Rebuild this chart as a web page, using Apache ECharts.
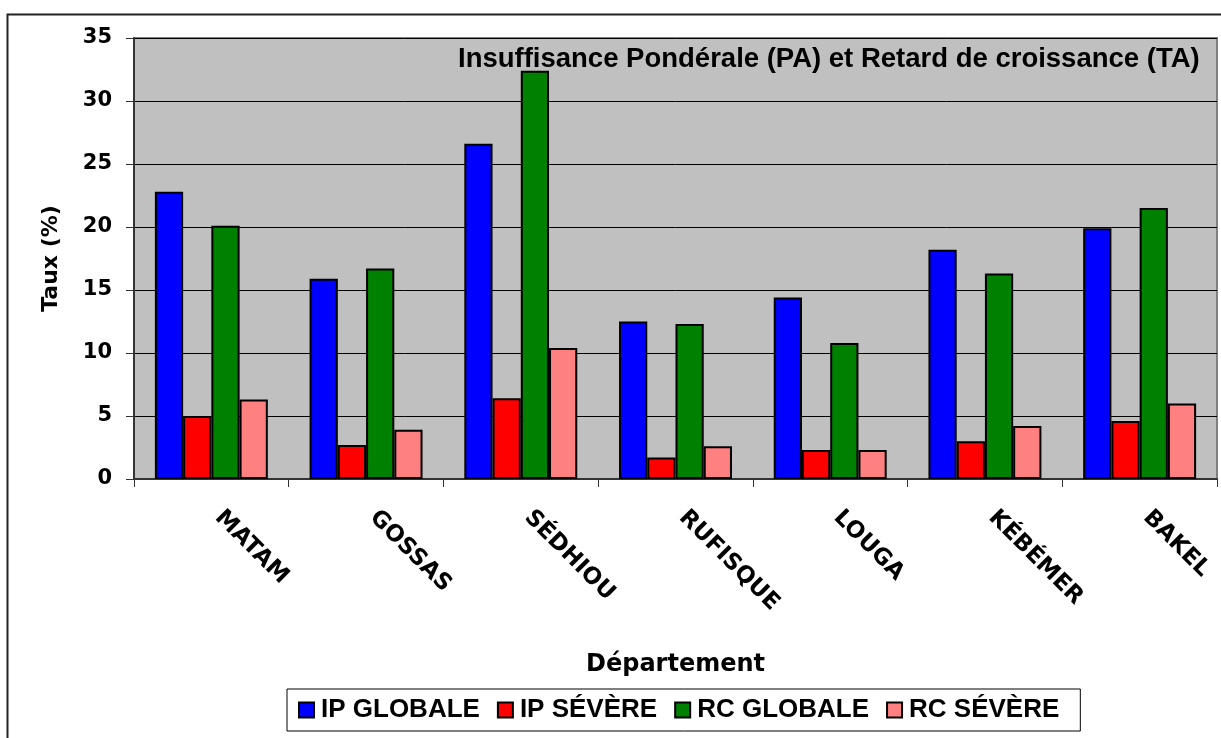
<!DOCTYPE html>
<html>
<head>
<meta charset="utf-8">
<script src="https://cdn.jsdelivr.net/npm/echarts@6/dist/echarts.min.js"></script>
<style>
  html, body { margin: 0; padding: 0; background: #fff; }
  #chart { width: 1221px; height: 738px; }
</style>
</head>
<body>
<div id="chart"></div>
<script>
// departements
const departements = ['MATAM', 'GOSSAS', 'SÉDHIOU', 'RUFISQUE', 'LOUGA', 'KÉBÉMER', 'BAKEL']

// taux (%)
const ipGlobale = [22.8, 15.9, 26.6, 12.5, 14.4, 18.2, 19.9]
const ipSevere = [5.0, 2.7, 6.4, 1.7, 2.3, 3.0, 4.6]
const rcGlobale = [20.1, 16.7, 32.4, 12.3, 10.8, 16.3, 21.5]
const rcSevere = [6.3, 3.9, 10.4, 2.6, 2.3, 4.2, 6.0]

const yTicks = [0, 5, 10, 15, 20, 25, 30, 35]

const arial = '"Liberation Sans", Arial, sans-serif'
const dejavu = '"DejaVu Sans", Verdana, sans-serif'

const chart = echarts.init(document.getElementById('chart'))

function bar(name, data, color) {
  return {
    name: name,
    type: 'bar',
    data: data,
    barGap: '0%',
    barCategoryGap: '27%',
    itemStyle: { color: color, borderColor: '#000', borderWidth: 2 },
    emphasis: { disabled: true }
  }
}

chart.setOption({
  animation: false,
  textStyle: { fontFamily: dejavu },
  graphic: [
    {
      // cadre du graphique (coupe a droite et en bas)
      type: 'rect',
      shape: { x: 7.5, y: 14.5, width: 1240, height: 760 },
      style: { fill: null, stroke: '#222', lineWidth: 2 },
      z: -10
    }
  ],
  title: {
    text: 'Insuffisance Pondérale (PA) et Retard de croissance (TA)',
    left: 453,
    top: 40,
    textStyle: { fontSize: 27.5, fontWeight: 'bold', color: '#000', fontFamily: arial }
  },
  grid: {
    left: 134,
    right: 4,
    top: 38,
    bottom: 259,
    show: true,
    backgroundColor: '#c0c0c0',
    borderColor: '#808080',
    borderWidth: 2
  },
  legend: {
    left: 287,
    top: 689,
    padding: [8, 21, 8, 11],
    backgroundColor: '#fff',
    borderColor: '#000',
    borderWidth: 1,
    itemWidth: 15,
    itemHeight: 15,
    itemGap: 17,
    icon: 'rect',
    itemStyle: { borderColor: '#000', borderWidth: 2 },
    textStyle: { fontSize: 26, fontWeight: 'bold', color: '#000', fontFamily: arial, padding: [0, 0, 0, 2] },
    data: ['IP GLOBALE', 'IP SÉVÈRE', 'RC GLOBALE', 'RC SÉVÈRE']
  },
  xAxis: {
    type: 'category',
    data: departements,
    name: 'Département',
    nameLocation: 'middle',
    nameGap: 174,
    nameTextStyle: { fontSize: 24, fontWeight: 'bold', color: '#000' },
    axisLine: { lineStyle: { color: '#333', width: 2 } },
    axisTick: { show: true, length: 8, lineStyle: { color: '#333' } },
    axisLabel: {
      rotate: -45,
      margin: 28,
      padding: [0, 0, 0, 10],
      fontSize: 23,
      fontWeight: 'bold',
      color: '#000',
      interval: 0
    }
  },
  yAxis: {
    type: 'value',
    min: yTicks[0],
    max: yTicks[yTicks.length - 1],
    interval: 5,
    name: 'Taux (%)',
    nameLocation: 'middle',
    nameGap: 72,
    nameTextStyle: { fontSize: 22, fontWeight: 'bold', color: '#000' },
    axisLine: { show: true, lineStyle: { color: '#333', width: 2 } },
    axisTick: { show: true, length: 8, lineStyle: { color: '#333' } },
    axisLabel: { fontSize: 21, fontWeight: 'bold', color: '#000', margin: 22 },
    splitLine: { show: true, lineStyle: { color: '#000', width: 1 } }
  },
  series: [
    bar('IP GLOBALE', ipGlobale, '#0000ff'),
    bar('IP SÉVÈRE', ipSevere, '#ff0000'),
    bar('RC GLOBALE', rcGlobale, '#008000'),
    bar('RC SÉVÈRE', rcSevere, '#ff8080')
  ]
})
</script>
</body>
</html>
